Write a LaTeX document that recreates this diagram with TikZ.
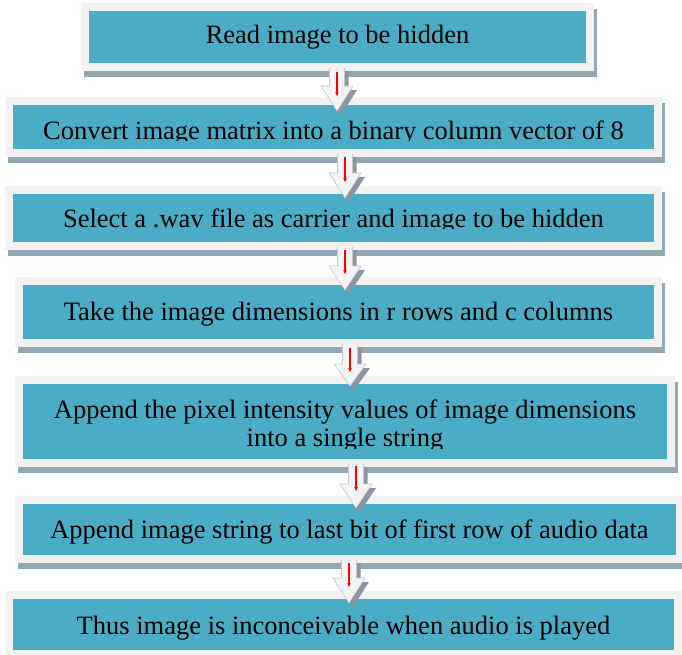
\documentclass[tikz,border=0pt]{standalone}
\usepackage{fontspec}
\setmainfont{Liberation Serif}
\usetikzlibrary{arrows.meta}
\definecolor{tealc}{HTML}{4BACC6}
\definecolor{framec}{HTML}{F2F2F2}
\definecolor{shadowc}{HTML}{92A8B2}
\definecolor{arrshadow}{HTML}{8A95A5}
\definecolor{arrfill}{HTML}{F4F4F4}
\definecolor{arredge}{HTML}{C8C8C8}
\newcommand\stepframe[5]{%
  \fill[shadowc] (#2+3,#3+6) rectangle (#4+3,#5+6);
  \fill[framec] (#2,#3) rectangle (#4,#5);
  \node[tealbox, minimum width={#4-#2-16}, minimum height={#5-#3-16}] (#1) at ({(#2+#4)/2},{(#3+#5)/2}) {};
}
\newcommand\flowarrow[7]{%
  \fill[arrshadow] (#2-7.5+4,#3+3) -- (#2+7.5+4,#3+3) -- (#2+7.5+4,#4+4) -- (#2+16+4,#4+4) -- (#2+4,#5+4) -- (#2-16+4,#4+4) -- (#2-7.5+4,#4+4) -- cycle;
  \fill[arrfill] (#2-7.5,#3) -- (#2+7.5,#3) -- (#2+7.5,#4) -- (#2+16,#4) -- (#2,#5) -- (#2-16,#4) -- (#2-7.5,#4) -- cycle;
  \draw[arredge, line width=0.6] (#2+7.5,#3) -- (#2+7.5,#4) -- (#2+16,#4) -- (#2,#5) -- (#2-16,#4) -- (#2-7.5,#4) -- (#2-7.5,#3);
  \coordinate (#1s) at (#2,#6);
  \coordinate (#1e) at (#2,#7);
  \draw[redarrow] (#1s) -- (#1e);
}
\tikzset{
  tealbox/.style={fill=tealc, draw=none, inner sep=0pt, outer sep=0pt},
  lbl/.style={anchor=base, inner sep=0pt, outer sep=0pt, text=black, font=\fontsize{26.5}{28}\selectfont},
  redarrow/.style={red, line width=1.3pt, -{Stealth[length=4pt,width=3.5pt]}}
}
\begin{document}
\begin{tikzpicture}[x=1pt,y=-1pt]
\clip (0,0) rectangle (682,655);
\fill[white] (0,0) rectangle (682,655);
% boxes
\stepframe{b1}{81}{3}{594}{71}
\stepframe{b2}{5}{97}{662}{157}
\stepframe{b3}{5}{186}{662}{250}
\stepframe{b4}{15}{277}{662}{347}
\stepframe{b5}{15}{376}{675}{467}
\stepframe{b6}{15}{496}{684}{563}
\stepframe{b7}{5}{591}{682}{658}
% texts
\node[lbl] (t1) at (337.5,44) {Read image to be hidden};
\begin{scope}
  \clip (13,105) rectangle (654,141);
  \node[lbl] (t2) at (333.5,140) {Convert image matrix into a binary column vector of 8};
\end{scope}
\begin{scope}
  \clip (13,194) rectangle (654,228.5);
  \node[lbl] (t3) at (333.5,227) {Select a .wav file as carrier and image to be hidden};
\end{scope}
\node[lbl] (t4) at (338.5,320) {Take the image dimensions in r rows and c columns};
\begin{scope}
  \clip (23,384) rectangle (667,448);
  \node[lbl, align=center] (t5) at (345,446) {Append the pixel intensity values of image dimensions\\into a single string};
\end{scope}
\node[lbl] (t6) at (349.5,538) {Append image string to last bit of first row of audio data};
\node[lbl] (t7) at (343.5,634) {Thus image is inconceivable when audio is played};
% arrows
\flowarrow{a1}{337}{68}{86}{111}{72}{96}
\flowarrow{a2}{345}{154}{173}{198}{157}{182}
\flowarrow{a3}{345}{247}{266}{290}{250}{274}
\flowarrow{a4}{350}{344}{364}{386}{348}{372}
\flowarrow{a5}{356}{464}{484}{508}{466}{491}
\flowarrow{a6}{349}{560}{578}{603}{563}{587}
\end{tikzpicture}
\end{document}
